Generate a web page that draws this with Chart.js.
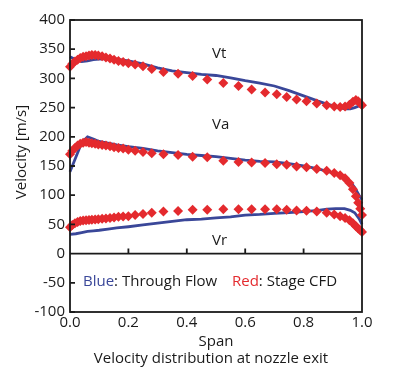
<!DOCTYPE html>
<html>
<head>
<meta charset="utf-8">
<script src="https://cdn.jsdelivr.net/npm/chart.js@4"></script>
<style>
  html, body { margin: 0; padding: 0; background: #fff; }
  #wrap { width: 400px; height: 372px; }
</style>
</head>
<body>
<div id="wrap"><canvas id="chart"></canvas></div>
<script>
// Stage CFD (red markers)
const cfdSpan = [0, 0.008, 0.017, 0.026, 0.035, 0.045, 0.055, 0.065, 0.075, 0.086, 0.097, 0.11, 0.123, 0.137, 0.151, 0.166, 0.182, 0.2, 0.223, 0.25, 0.28, 0.32, 0.37, 0.42, 0.47, 0.525, 0.577, 0.622, 0.668, 0.708, 0.742, 0.776, 0.81, 0.845, 0.879, 0.905, 0.925, 0.942, 0.957, 0.969, 0.979, 0.987, 0.994, 1.0];
const cfdVt = [320, 325, 329, 332, 335, 337, 338, 339, 340, 340, 339, 338, 336, 334, 332, 330, 328, 326, 324, 321, 316, 311, 308, 304, 298, 292, 287, 281, 276, 273, 268, 264, 261, 257, 254, 252, 251, 252, 255, 260, 263, 261, 257, 254];
const cfdVa = [170, 176, 181, 185, 188, 190, 191, 190, 189, 188, 187, 186, 185, 184, 182, 181, 180, 178, 176, 174, 172, 170, 169, 166, 165, 159, 157, 156, 155, 153, 152, 149, 148, 145, 142, 138, 134, 129, 121, 110, 98, 87, 77, 66];
const cfdVr = [45, 49, 52, 54, 56, 56.5, 57, 57.5, 58, 58.5, 59, 59.5, 60, 61, 62, 63, 63.5, 64, 66, 68, 70, 72, 73, 75, 75, 76, 76, 76, 76, 76, 75, 74, 73.5, 72, 70, 67, 64, 61, 57, 52, 47, 43, 40, 37];

// Through flow (blue lines)
const tfSpan = [0, 0.02, 0.04, 0.06, 0.08, 0.1, 0.13, 0.16, 0.2, 0.25, 0.3, 0.35, 0.4, 0.45, 0.5, 0.55, 0.6, 0.65, 0.7, 0.75, 0.8, 0.85, 0.88, 0.91, 0.94, 0.96, 0.975, 0.99, 1.0];
const tfVt = [337, 332, 329, 330, 332, 333, 334, 333, 330, 325, 318, 313, 310, 307, 305, 301, 296, 292, 287, 279, 270, 261, 256, 252, 248, 248, 250, 253, 254];
const tfVa = [140, 165, 190, 200, 196, 192, 189, 186, 183, 180, 176, 173, 170, 168, 166, 163, 160, 158, 157, 154, 150, 145, 141, 137, 131, 123, 113, 100, 92];
const tfVr = [33, 34, 36, 38, 39, 40, 42, 44, 46, 49, 52, 55, 58, 59, 61, 63, 66, 67, 69, 70, 72, 74, 76, 77, 77, 74, 70, 60, 50];

const xTicks = [0, 0.2, 0.4, 0.6, 0.8, 1.0];
const yTicks = [-100, -50, 0, 50, 100, 150, 200, 250, 300, 350, 400];

const BLUE = '#3a4799';
const RED = '#e42a2e';
const INK = '#1a1a1a';
const FONT = '"Open Sans", sans-serif';

const toPoints = (xs, ys) => xs.map((x, i) => ({ x, y: ys[i] }));

const lineSet = (ys) => ({
  data: toPoints(tfSpan, ys),
  showLine: true,
  borderColor: BLUE,
  borderWidth: 2.8,
  pointRadius: 0,
  tension: 0,
  clip: false,
  order: 2,
});

const markerSet = (ys) => ({
  data: toPoints(cfdSpan, ys),
  showLine: false,
  pointStyle: 'rectRot',
  pointRadius: 5,
  backgroundColor: RED,
  borderColor: RED,
  borderWidth: 0,
  clip: false,
  order: 1,
});

const decorations = {
  id: 'decorations',
  afterDatasetsDraw(chart) {
    const { ctx, chartArea: a, scales: { x, y } } = chart;
    ctx.save();
    ctx.strokeStyle = INK;
    ctx.lineWidth = 1.8;
    ctx.strokeRect(a.left, a.top, a.right - a.left, a.bottom - a.top);

    const y0 = y.getPixelForValue(0);
    ctx.beginPath();
    ctx.moveTo(a.left, y0);
    ctx.lineTo(a.right, y0);
    yTicks.forEach((v) => {
      const py = y.getPixelForValue(v);
      ctx.moveTo(a.left, py);
      ctx.lineTo(a.left + 5, py);
    });
    xTicks.slice(1, -1).forEach((v) => {
      const px = x.getPixelForValue(v);
      ctx.moveTo(px, y0);
      ctx.lineTo(px, y0 - 5);
    });
    ctx.stroke();

    ctx.fillStyle = INK;
    ctx.font = `15px ${FONT}`;
    ctx.textBaseline = 'middle';
    ctx.textAlign = 'left';
    ctx.fillText('Vt', 212, 54);
    ctx.fillText('Va', 212, 125);
    ctx.fillText('Vr', 212, 241);

    // legend text, two groups
    const legend = [
      [83, [['Blue', BLUE], [': Through Flow', INK]]],
      [232, [['Red', RED], [': Stage CFD', INK]]],
    ];
    legend.forEach(([startX, parts]) => {
      let lx = startX;
      parts.forEach(([t, c]) => {
        ctx.fillStyle = c;
        ctx.fillText(t, lx, 282);
        lx += ctx.measureText(t).width;
      });
    });

    ctx.fillStyle = INK;
    ctx.textAlign = 'center';
    ctx.fillText('Span', 216, 342);
    ctx.fillText('Velocity distribution at nozzle exit', 211, 359);

    ctx.translate(22, 152);
    ctx.rotate(-Math.PI / 2);
    ctx.fillText('Velocity [m/s]', 0, 0);
    ctx.restore();
  },
};

new Chart(document.getElementById('chart'), {
  type: 'scatter',
  data: {
    datasets: [
      lineSet(tfVt), lineSet(tfVa), lineSet(tfVr),
      markerSet(cfdVt), markerSet(cfdVa), markerSet(cfdVr),
    ],
  },
  options: {
    responsive: true,
    maintainAspectRatio: false,
    animation: false,
    layout: { padding: { top: 20, right: 38, left: 0, bottom: 0 } },
    plugins: {
      legend: { display: false },
      tooltip: { enabled: false },
    },
    scales: {
      x: {
        type: 'linear',
        min: 0,
        max: 1,
        afterBuildTicks: (s) => { s.ticks = xTicks.map((v) => ({ value: v })); },
        afterFit: (s) => { s.height = 60; },
        grid: { display: false, drawTicks: false },
        border: { display: false },
        ticks: {
          color: INK,
          padding: 2,
          maxRotation: 0,
          font: { family: FONT, size: 15 },
          callback: (v) => Number(v).toFixed(1),
        },
      },
      y: {
        min: -100,
        max: 400,
        afterBuildTicks: (s) => { s.ticks = yTicks.map((v) => ({ value: v })); },
        afterFit: (s) => { s.width = 70; },
        grid: { display: false, drawTicks: false },
        border: { display: false },
        ticks: {
          color: INK,
          padding: 5,
          font: { family: FONT, size: 15 },
        },
      },
    },
  },
  plugins: [decorations],
});
</script>
</body>
</html>
